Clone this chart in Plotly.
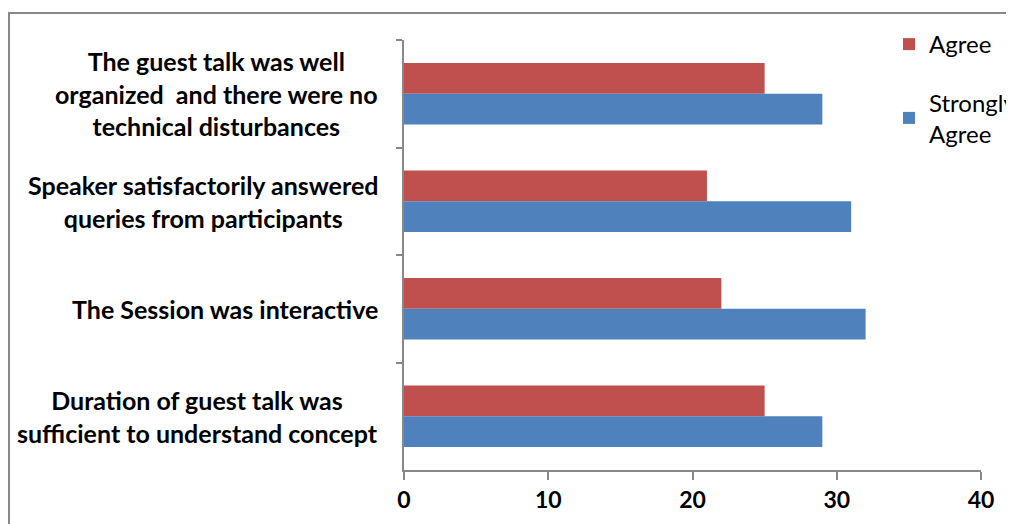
import plotly.graph_objects as go

categories = [
    "The guest talk was well<br>organized  and there were no<br>technical disturbances",
    "Speaker satisfactorily answered<br>queries from participants",
    "The Session was interactive",
    "Duration of guest talk was<br>sufficient to understand concept",
]
agree = [25, 21, 22, 25]
strongly_agree = [29, 31, 32, 29]
x_ticks = [0, 10, 20, 30, 40]

FONT = "Lato"
# the page body has an 8px margin, so the figure is drawn 8px in from the window edges
W, H = 1006, 516
L, R, T, B = 396, 33, 32, 54
pw, ph = W - L - R, H - T - B


def px_x(v):
    return (v - L) / pw


def px_y(v):
    return 1 - (v - T) / ph


fig = go.Figure()
fig.add_trace(go.Bar(y=categories, x=agree, orientation="h", name="Agree",
                     marker=dict(color="#C0504D", line=dict(width=0)), legendgroup="a"))
fig.add_trace(go.Bar(y=categories, x=strongly_agree, orientation="h", name="Strongly<br>Agree",
                     marker=dict(color="#4F81BD", line=dict(width=0)), legendgroup="b"))

for c in categories:
    fig.add_annotation(x=0, xref="paper", y=c, yref="y", text=f"<b>{c}</b>",
                       xanchor="right", xshift=-24, showarrow=False, align="center",
                       font=dict(family=FONT, size=25, color="black"))

# outer chart frame
fig.add_shape(type="rect", xref="paper", yref="paper",
              x0=px_x(1), x1=px_x(1040),
              y0=px_y(560), y1=px_y(5),
              line=dict(color="#888888", width=2), fillcolor="rgba(0,0,0,0)", layer="above")

fig.update_layout(
    width=W, height=H,
    margin=dict(l=L, r=R, t=T, b=B, autoexpand=False),
    barmode="group", bargap=0.43, bargroupgap=0,
    plot_bgcolor="white", paper_bgcolor="white",
    font=dict(family=FONT, size=24, color="black"),
    showlegend=True,
    legend=dict(x=px_x(881), xanchor="left", y=px_y(14), yanchor="top",
                traceorder="grouped", tracegroupgap=24,
                font=dict(family=FONT, size=24, color="black"),
                bgcolor="rgba(0,0,0,0)", itemwidth=30),
    xaxis=dict(range=[0, 40], tickvals=x_ticks, ticktext=[f"<b>{v}</b>" for v in x_ticks],
               showgrid=False, zeroline=False, showline=True, linecolor="#888888", linewidth=2,
               ticks="outside", ticklen=8, tickcolor="#888888", tickwidth=2,
               tickfont=dict(family=FONT, size=23, color="black")),
    yaxis=dict(autorange="reversed", showticklabels=False, showgrid=False, zeroline=False,
               showline=True, linecolor="#888888", linewidth=2,
               ticks="outside", ticklen=6, tickcolor="#888888", tickwidth=2,
               tickson="boundaries"),
)

fig.write_html("out.html")
